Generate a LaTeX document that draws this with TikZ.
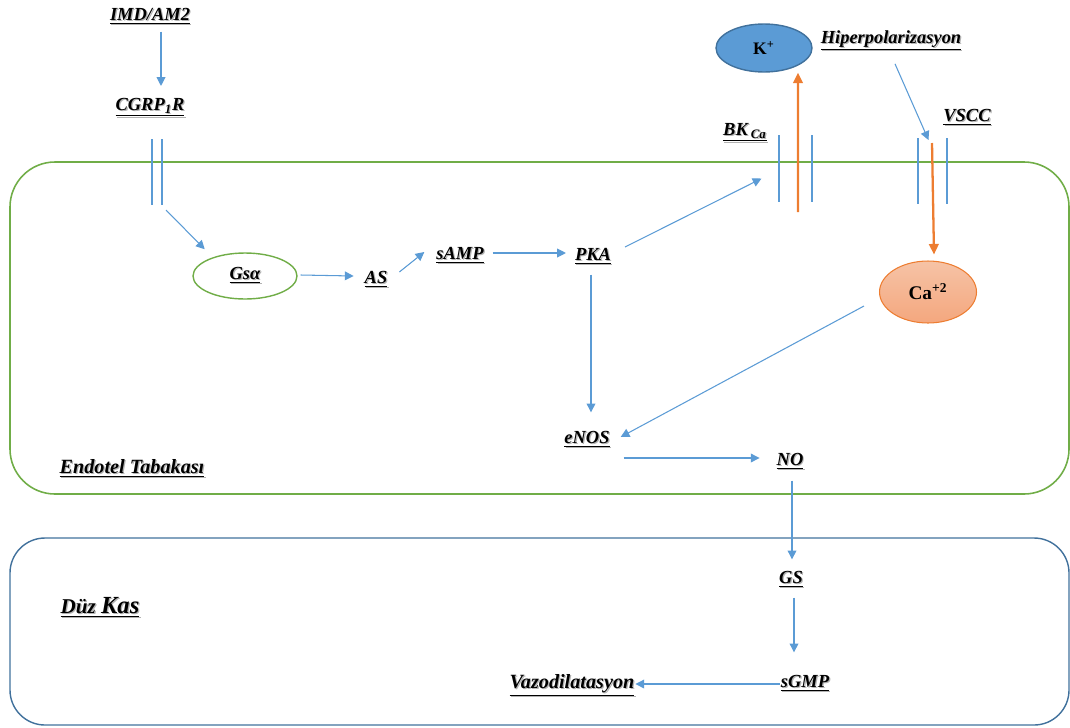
\documentclass[tikz,border=0pt]{standalone}
\usepackage{fontspec}
\setmainfont{Liberation Serif}
\usepackage{tikz}
\usetikzlibrary{arrows.meta,shapes.geometric}

\definecolor{lnblue}{HTML}{5B9BD5}
\definecolor{boxblue}{HTML}{41719C}
\definecolor{memgreen}{HTML}{70AD47}
\definecolor{chorange}{HTML}{ED7D31}
\definecolor{catop}{HTML}{F6C3A6}
\definecolor{cabot}{HTML}{F4A77E}

% underlined label with a soft drop shadow
\newcommand\shlbl[1]{\rlap{\hspace{0.7pt}\raisebox{-0.7pt}{\textcolor{black!30}{\underline{#1}}}}\underline{#1}}

\tikzset{
  lbl/.style={font=\bfseries\itshape\fontsize{10.5}{12}\selectfont, inner sep=1pt},
  biglbl/.style={lbl, font=\bfseries\itshape\fontsize{11.5}{13}\selectfont},
  barrow/.style={draw=lnblue, line width=0.6pt, -{Triangle[length=5pt,width=5pt]}},
  oarrow/.style={draw=chorange, line width=1.3pt, -{Triangle[length=6pt,width=5.5pt]}},
  chan/.style={draw=lnblue, line width=0.6pt},
}

\begin{document}
\begin{tikzpicture}[x=0.02cm,y=-0.02cm]
\useasboundingbox (0,0) rectangle (1070,727);
% cell layers
\draw[memgreen, line width=0.9pt, rounded corners=0.9cm] (10,162) rectangle (1069,494);
\draw[boxblue, line width=0.8pt, rounded corners=0.7cm] (10,538) rectangle (1069,725);
\node[biglbl] (endo) at (132,469) {\shlbl{Endotel Tabakası}};
\node[lbl, font=\bfseries\itshape\fontsize{12}{14}\selectfont] (duz) at (100,608)
  {\shlbl{Düz {\fontsize{14}{16}\selectfont Kas}}};

% receptor side
\node[lbl] (imd) at (150,17) {\shlbl{IMD/AM2}};
\node[lbl] (cgrp) at (150,108) {\shlbl{CGRP\textsubscript{1}R}};
\coordinate (rec) at (157,172);
\foreach \dx in {-5,5}
  \draw[chan] ([shift={(\dx,-33)}]rec) -- ([shift={(\dx,33)}]rec);
\node[ellipse, draw=memgreen, line width=0.8pt, fill=white, minimum width=2.08cm,
  minimum height=0.92cm, inner sep=0pt, font=\bfseries\itshape\fontsize{10.5}{12}\selectfont]
  (gsa) at (245,276) {\shlbl{Gsα}};
\node[lbl] (as) at (376,280) {\shlbl{AS}};
\node[lbl] (samp) at (460,256) {\shlbl{sAMP}};
\node[lbl] (pka) at (593,257) {\shlbl{PKA}};
\node[lbl] (enos) at (587,440) {\shlbl{eNOS}};
\node[lbl] (no) at (790,462) {\shlbl{NO}};
\node[lbl] (gs) at (791,580) {\shlbl{GS}};
\node[lbl] (sgmp) at (805,684) {\shlbl{sGMP}};
\node[biglbl] (vazo) at (572,686) {\shlbl{Vazodilatasyon}};

% channels
\node[lbl] (bklbl) at (745,133) {\shlbl{BK\,\textsubscript{Ca}}};
\coordinate (bk) at (795.5,168.5);
\foreach \dx in {-16.5,16.5}
  \draw[chan] ([shift={(\dx,-33.5)}]bk) -- ([shift={(\dx,33.5)}]bk);
\node[lbl] (vscclbl) at (967,118) {\shlbl{VSCC}};
\coordinate (vscc) at (932.5,171);
\foreach \dx in {-14.5,14.5}
  \draw[chan] ([shift={(\dx,-33)}]vscc) -- ([shift={(\dx,33)}]vscc);
\node[lbl] (hiper) at (891,41) {\shlbl{Hiperpolarizasyon}};

% ions
\node[ellipse, draw=boxblue, line width=0.8pt, fill=lnblue, minimum width=1.92cm,
  minimum height=0.96cm, inner sep=0pt, font=\bfseries\fontsize{10}{12}\selectfont]
  (k) at (764,48) {K\textsuperscript{+}};
\node[ellipse, draw=chorange, line width=0.6pt, top color=catop, bottom color=cabot,
  minimum width=1.94cm, minimum height=1.24cm, inner sep=0pt,
  font=\bfseries\fontsize{11}{13}\selectfont]
  (ca) at (928,292) {Ca\textsuperscript{+2}};

% signalling arrows
\draw[barrow] ([shift={(11,4)}]imd.south) -- ([shift={(11,-10)}]cgrp.north);
\draw[barrow] ([shift={(9,38)}]rec) -- ([shift={(-3,-10)}]gsa.north west);
\draw[barrow] ([shift={(3,-1)}]gsa.east) -- ([shift={(-9,-4)}]as.west);
\draw[barrow] ([shift={(10,-8)}]as.east) -- ([shift={(-10,-4)}]samp.west);
\draw[barrow] ([shift={(7,-3)}]samp.east) -- ([shift={(-7,-4)}]pka.west);
\draw[barrow] ([shift={(12,-10)}]pka.east) -- ([shift={(-34,10)}]bk);
\draw[barrow] ([shift={(-2,7)}]pka.south) -- ([shift={(4,-17)}]enos.north);
\draw[barrow] ([shift={(-15,14)}]ca.west) -- ([shift={(9,-3)}]enos.east);
\draw[barrow] ([shift={(12,18)}]enos.east) -- ([shift={(-15,-4)}]no.west);
\draw[barrow] ([shift={(2,8)}]no.south) -- ([shift={(1,-10)}]gs.north);
\draw[barrow] ([shift={(3,7)}]gs.south) -- ([shift={(-11,-21)}]sgmp.north);
\draw[barrow] ([shift={(1,0)}]sgmp.west) -- ([shift={(-1,-2)}]vazo.east);
\draw[barrow] ([shift={(4,10)}]hiper.south) -- ([shift={(-4,-31)}]vscc);

% ion flux
\draw[oarrow] ([shift={(2.5,43.5)}]bk) -- ([xshift=0.68cm]k.south);
\draw[oarrow] ([shift={(-0.5,-28)}]vscc) -- ([shift={(6,-6)}]ca.north);
\end{tikzpicture}
\end{document}
